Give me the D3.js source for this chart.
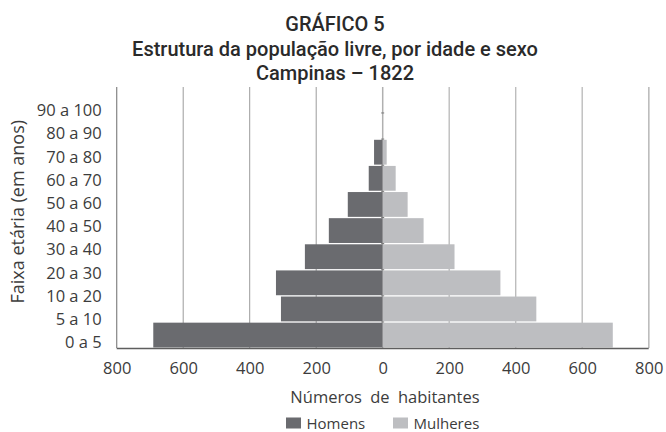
<!DOCTYPE html>
<html>
<head>
<meta charset="utf-8">
<script src="https://cdn.jsdelivr.net/npm/d3@7.9.0/dist/d3.min.js"></script>
<style>
  body { margin: 0; background: #fff; }
  svg { display: block; }
  .label { font-family: "Open Sans", sans-serif; font-weight: 400; fill: #3c3c3c; }
  .title { font-family: Roboto, sans-serif; font-weight: 500; fill: #2a2a2a; font-size: 20px; }
</style>
</head>
<body>
<div id="chart"></div>
<script>
const ages = ["0 a 5", "5 a 10", "10 a 20", "20 a 30", "30 a 40", "40 a 50",
  "50 a 60", "60 a 70", "70 a 80", "80 a 90", "90 a 100"];
const homens = [690, 306, 321, 234, 162, 105, 42, 26, 0, 0, 0];
const mulheres = [692, 462, 354, 216, 123, 75, 39, 12, 0, 0, 0];
const xTicks = [-800, -600, -400, -200, 0, 200, 400, 600, 800];
const titleLines = ["GRÁFICO 5", "Estrutura da população livre, por idade e sexo", "Campinas – 1822"];

const width = 666;
const height = 432;
const plot = { left: 116.7, right: 648.7, top: 87, bottom: 348 };

const svg = d3.select("#chart").append("svg")
  .attr("width", width)
  .attr("height", height);

const x = d3.scaleLinear().domain([-800, 800]).range([plot.left, plot.right]);

// bars sit on 10 bands inside the frame, labels are spaced a bit tighter
const step = (plot.bottom - plot.top) / 10;
const yBar = d3.scaleBand()
  .domain(ages)
  .range([plot.bottom, plot.bottom - step * ages.length])
  .paddingInner(0.05)
  .paddingOuter(0.02);
const yLabel = d3.scalePoint().domain(ages).range([342.4, 110.4]);

// gridlines
svg.append("g")
  .selectAll("line")
  .data(xTicks.filter((d) => d !== 0))
  .join("line")
  .attr("x1", (d) => x(d))
  .attr("x2", (d) => x(d))
  .attr("y1", plot.top)
  .attr("y2", plot.bottom)
  .attr("stroke", (d) => (d < 0 ? "#9c9c9c" : "#bdbdbd"))
  .attr("stroke-width", (d) => (d < 0 ? 1 : 1.4));

// center category line with ticks at band edges
svg.append("line")
  .attr("x1", x(0)).attr("x2", x(0))
  .attr("y1", plot.top).attr("y2", plot.bottom)
  .attr("stroke", "#b0b0b0").attr("stroke-width", 1.5);

svg.append("g")
  .selectAll("line")
  .data(ages.slice(1, 10))
  .join("line")
  .attr("x1", x(0) - 1.5).attr("x2", x(0) + 1.5)
  .attr("y1", (d) => yBar(d) + yBar.bandwidth() + 0.6)
  .attr("y2", (d) => yBar(d) + yBar.bandwidth() + 0.6)
  .attr("stroke", "#777");

// bars
const rows = ages.map((age, i) => ({ age, homens: homens[i], mulheres: mulheres[i] }));

svg.append("g")
  .selectAll("rect")
  .data(rows.filter((d) => d.homens > 0))
  .join("rect")
  .attr("x", (d) => x(-d.homens))
  .attr("y", (d) => yBar(d.age))
  .attr("width", (d) => x(0) - x(-d.homens))
  .attr("height", yBar.bandwidth())
  .attr("fill", "#6a6b6f");

svg.append("g")
  .selectAll("rect")
  .data(rows.filter((d) => d.mulheres > 0))
  .join("rect")
  .attr("x", x(0))
  .attr("y", (d) => yBar(d.age))
  .attr("width", (d) => x(d.mulheres) - x(0))
  .attr("height", yBar.bandwidth())
  .attr("fill", "#bdbec1");

// frame
svg.append("line")
  .attr("x1", plot.left).attr("x2", plot.left)
  .attr("y1", plot.top).attr("y2", plot.bottom)
  .attr("stroke", "#8a8a8a");
svg.append("line")
  .attr("x1", plot.right).attr("x2", plot.right)
  .attr("y1", plot.top).attr("y2", plot.bottom)
  .attr("stroke", "#bdbdbd").attr("stroke-width", 1.4);
svg.append("line")
  .attr("x1", plot.left).attr("x2", plot.right)
  .attr("y1", plot.bottom + 0.5).attr("y2", plot.bottom + 0.5)
  .attr("stroke", "#5e5e5e").attr("stroke-width", 1.5);

// x axis labels
const xAxis = svg.append("g")
  .attr("transform", `translate(0, ${plot.bottom})`)
  .call(d3.axisBottom(x).tickValues(xTicks).tickSize(0).tickPadding(14)
    .tickFormat((d) => Math.abs(d)));
xAxis.select(".domain").remove();
xAxis.selectAll("text")
  .attr("class", "label")
  .style("font-size", "16.5px");

// y axis labels
const yAxis = svg.append("g")
  .attr("transform", `translate(101.7, 0)`)
  .call(d3.axisLeft(yLabel).tickSize(0).tickPadding(0));
yAxis.select(".domain").remove();
yAxis.selectAll("text")
  .attr("class", "label")
  .style("font-size", "16.5px");

// titles
svg.append("g")
  .selectAll("text")
  .data(titleLines)
  .join("text")
  .attr("class", "title")
  .attr("x", 335)
  .attr("y", (d, i) => 31 + i * 24.5)
  .attr("text-anchor", "middle")
  .text((d) => d);

svg.append("text")
  .attr("class", "label")
  .attr("x", 385)
  .attr("y", 403.3)
  .attr("text-anchor", "middle")
  .style("font-size", "16.5px")
  .style("word-spacing", "4px")
  .text("Números de habitantes");

svg.append("text")
  .attr("class", "label")
  .attr("transform", "translate(24, 211.7) rotate(-90)")
  .attr("text-anchor", "middle")
  .style("font-size", "18px")
  .text("Faixa etária (em anos)");

// legend
const legend = [
  { name: "Homens", color: "#6a6b6f", x: 286 },
  { name: "Mulheres", color: "#bdbec1", x: 393 },
];
const lg = svg.append("g")
  .selectAll("g")
  .data(legend)
  .join("g")
  .attr("transform", (d) => `translate(${d.x}, 417.5)`);
lg.append("rect")
  .attr("width", 15)
  .attr("height", 11)
  .attr("fill", (d) => d.color);
lg.append("text")
  .attr("class", "label")
  .attr("x", 20.5)
  .attr("y", 11)
  .style("font-size", "15px")
  .text((d) => d.name);
</script>
</body>
</html>
